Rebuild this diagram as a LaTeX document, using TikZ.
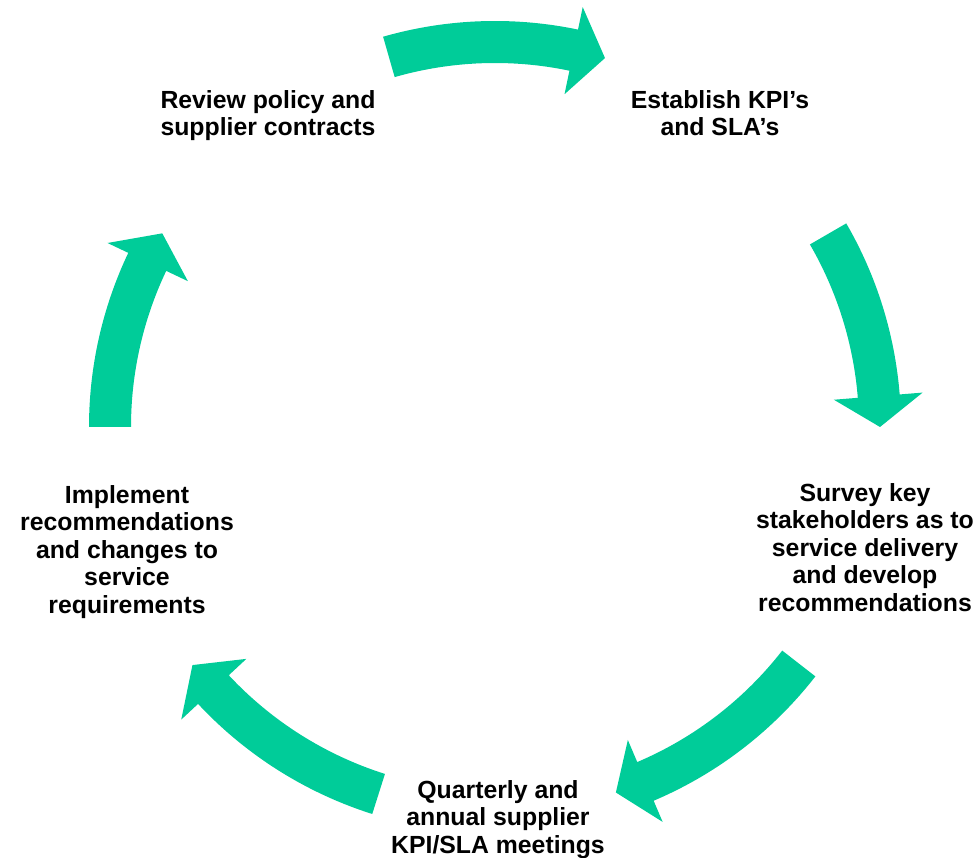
\documentclass[tikz,border=0pt]{standalone}
\usepackage{fontspec}
\setmainfont{Liberation Sans}
\usetikzlibrary{calc}
\definecolor{cyclegreen}{RGB}{0,204,153}
\tikzset{
  lbl/.style={anchor=north, align=center, inner sep=0pt, text=black,
    font=\fontsize{24.8}{27.6}\selectfont\bfseries},
  cyclefill/.style={fill=cyclegreen, draw=none}
}
% #1 tail angle, #2 head base angle, #3 tip angle
\newcommand{\cyclearrow}[3]{%
  \fill[cyclefill] ($(C)+(#1:406pt)$) arc[start angle=#1, end angle=#2, radius=406pt]
    -- ($(C)+(#2:429pt)$) -- ($(C)+(#3:385pt)$) -- ($(C)+(#2:340pt)$)
    -- ($(C)+(#2:364pt)$) arc[start angle=#2, end angle=#1, radius=364pt] -- cycle;}
\begin{document}
\begin{tikzpicture}[x=1pt,y=1pt]
  \useasboundingbox (0,0) rectangle (979,857);
  \coordinate (C) at (495,430);
  \cyclearrow{106}{78.2}{73.4}
  \cyclearrow{30.1}{4.6}{0}
  \cyclearrow{-37.9}{-67}{-71.7}
  \cyclearrow{-107.6}{-137}{-141.8}
  \cyclearrow{180}{154.6}{149.8}
  \node[lbl] (review) at (268,767) {Review policy and\\supplier contracts};
  \node[lbl] (kpi) at (720,767) {Establish KPI’s\\and SLA’s};
  \node[lbl] (survey) at (865,374) {Survey key\\stakeholders as to\\service delivery\\and develop\\recommendations};
  \node[lbl] (meet) at (498,77) {Quarterly and\\annual supplier\\KPI/SLA meetings};
  \node[lbl] (impl) at (127,372) {Implement\\recommendations\\and changes to\\service\\requirements};
\end{tikzpicture}
\end{document}
